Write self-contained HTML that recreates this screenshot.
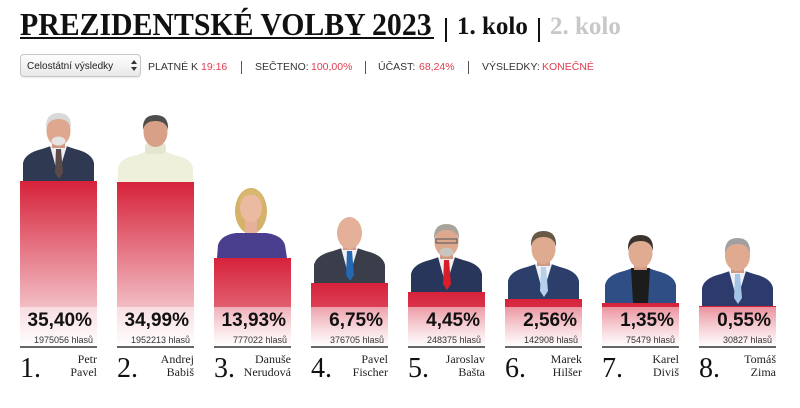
<!DOCTYPE html>
<html><head><meta charset="utf-8">
<style>
html,body{margin:0;padding:0;background:#fff;}
body{width:800px;height:408px;position:relative;overflow:hidden;font-family:"Liberation Sans",Arial,sans-serif;}
.abs{position:absolute;white-space:nowrap;}
.title{left:20px;top:8px;font-family:"Liberation Serif",serif;font-weight:bold;font-size:32px;line-height:32px;color:#111;transform:scaleX(0.931);transform-origin:0 0;}
.kolo{font-family:"Liberation Serif",serif;font-weight:bold;font-size:25px;line-height:25px;top:14px;}
.pipe{width:2px;height:24px;top:18px;background:#111;}
.row{font-size:10.5px;line-height:12px;top:61px;color:#333;}
.red{color:#e23b4e;}
.sep{width:1px;height:13px;top:61px;background:#555;}
.sel{left:20px;top:54px;width:119px;height:21px;border:1px solid #c6c6c6;border-radius:4px;background:linear-gradient(#fdfdfd,#e9e9e9);box-shadow:0 1px 1px rgba(0,0,0,.08);}
.sel span{position:absolute;left:6px;top:6px;font-size:10px;line-height:12px;color:#222;}
.bar{position:absolute;width:77px;background:linear-gradient(#d6223a 0px,#f2bcc3 125px);}
.box{position:absolute;width:77px;top:307px;height:40px;background:linear-gradient(rgba(255,255,255,.5),rgba(255,255,255,1));}
.pct{position:absolute;right:5px;top:3.5px;font-weight:bold;font-size:19px;line-height:19px;color:#111;}
.vot{position:absolute;right:4px;top:28.5px;font-size:9px;line-height:9px;color:#333;}
.ul{position:absolute;width:77px;top:346px;height:2px;background:#666;}
.rank{position:absolute;top:355px;font-family:"Liberation Serif",serif;font-size:28px;line-height:28px;color:#111;}
.name{position:absolute;top:353px;width:77px;text-align:right;font-family:"Liberation Serif",serif;font-size:12px;line-height:12.5px;color:#222;}
</style></head><body>

<div class="abs title">PREZIDENTSKÉ VOLBY 2023</div>
<div class="abs" style="left:20px;top:37px;width:414px;height:2px;background:#111;"></div>
<div class="abs pipe" style="left:445px;"></div>
<div class="abs kolo" style="left:457px;color:#111;">1. kolo</div>
<div class="abs pipe" style="left:538px;"></div>
<div class="abs kolo" style="left:550px;color:#c8c8c8;">2. kolo</div>

<div class="abs sel"><span>Celostátní výsledky</span>
<svg style="position:absolute;left:110px;top:5px" width="6" height="11" viewBox="0 0 6 11"><path d="M0,4 L3,0 L6,4 Z M0,7 L3,11 L6,7 Z" fill="#333"/></svg></div>

<div class="abs row" style="left:148px;">PLATNÉ K</div>
<div class="abs row red" style="left:201px;">19:16</div>
<div class="abs sep" style="left:241px;"></div>
<div class="abs row" style="left:255px;">SEČTENO:</div>
<div class="abs row red" style="left:311px;">100,00%</div>
<div class="abs sep" style="left:365px;"></div>
<div class="abs row" style="left:378px;">ÚČAST:</div>
<div class="abs row red" style="left:419px;">68,24%</div>
<div class="abs sep" style="left:468px;"></div>
<div class="abs row" style="left:482px;">VÝSLEDKY:</div>
<div class="abs row red" style="left:542px;">KONEČNÉ</div>

<!-- bars -->
<div class="bar" style="left:20px;top:181px;height:166px;"></div>
<div class="bar" style="left:117px;top:182px;height:165px;"></div>
<div class="bar" style="left:214px;top:258px;height:89px;"></div>
<div class="bar" style="left:311px;top:283px;height:64px;"></div>
<div class="bar" style="left:408px;top:292px;height:55px;"></div>
<div class="bar" style="left:505px;top:299px;height:48px;"></div>
<div class="bar" style="left:602px;top:303px;height:44px;"></div>
<div class="bar" style="left:699px;top:306px;height:41px;"></div>

<div class="box" style="left:20px;"><div class="pct">35,40%</div><div class="vot">1975056 hlasů</div></div>
<div class="box" style="left:117px;"><div class="pct">34,99%</div><div class="vot">1952213 hlasů</div></div>
<div class="box" style="left:214px;"><div class="pct">13,93%</div><div class="vot">777022 hlasů</div></div>
<div class="box" style="left:311px;"><div class="pct">6,75%</div><div class="vot">376705 hlasů</div></div>
<div class="box" style="left:408px;"><div class="pct">4,45%</div><div class="vot">248375 hlasů</div></div>
<div class="box" style="left:505px;"><div class="pct">2,56%</div><div class="vot">142908 hlasů</div></div>
<div class="box" style="left:602px;"><div class="pct">1,35%</div><div class="vot">75479 hlasů</div></div>
<div class="box" style="left:699px;"><div class="pct">0,55%</div><div class="vot">30827 hlasů</div></div>

<div class="ul" style="left:20px;"></div><div class="ul" style="left:117px;"></div><div class="ul" style="left:214px;"></div><div class="ul" style="left:311px;"></div>
<div class="ul" style="left:408px;"></div><div class="ul" style="left:505px;"></div><div class="ul" style="left:602px;"></div><div class="ul" style="left:699px;"></div>

<div class="rank" style="left:20px;">1.</div><div class="name" style="left:20px;">Petr<br>Pavel</div>
<div class="rank" style="left:117px;">2.</div><div class="name" style="left:117px;">Andrej<br>Babiš</div>
<div class="rank" style="left:214px;">3.</div><div class="name" style="left:214px;">Danuše<br>Nerudová</div>
<div class="rank" style="left:311px;">4.</div><div class="name" style="left:311px;">Pavel<br>Fischer</div>
<div class="rank" style="left:408px;">5.</div><div class="name" style="left:408px;">Jaroslav<br>Bašta</div>
<div class="rank" style="left:505px;">6.</div><div class="name" style="left:505px;">Marek<br>Hilšer</div>
<div class="rank" style="left:602px;">7.</div><div class="name" style="left:602px;">Karel<br>Diviš</div>
<div class="rank" style="left:699px;">8.</div><div class="name" style="left:699px;">Tomáš<br>Zima</div>

<!-- portraits -->
<svg class="abs" style="left:0;top:0" width="800" height="408" viewBox="0 0 800 408">
<!-- 1 Pavel -->
<g transform="translate(20,111)">
<path d="M3,70 L3,52 Q5,42 22,38 L31,35 L46,35 L55,38 Q72,42 74,52 L74,70 Z" fill="#2f3a52"/>
<path d="M30,35 L38,64 L47,35 Z" fill="#eeeef2"/>
<path d="M36,38 L41,38 L43,62 L39,68 L35,62 Z" fill="#5a4a48"/>
<rect x="32" y="27" width="13" height="10" fill="#cf9680"/>
<ellipse cx="38.5" cy="20" rx="12" ry="15" fill="#dfa88e"/>
<ellipse cx="38.5" cy="30" rx="7" ry="4.5" fill="#e6e4e2"/>
<path d="M26,18 Q25,2 38.5,2 Q52,2 51,18 Q49,8 38.5,8 Q28,8 26,18 Z" fill="#d9d9d9"/>
</g>
<!-- 2 Babiš -->
<g transform="translate(117,112)">
<path d="M1,70 L1,56 Q3,46 20,43 L30,39 L47,39 L57,43 Q74,46 76,56 L76,70 Z" fill="#eef0dc"/>
<rect x="28" y="31" width="21" height="11" rx="4" fill="#e4e6cf"/>
<ellipse cx="38.5" cy="20" rx="12" ry="15" fill="#d9a088"/>
<path d="M26,18 Q25,3 38.5,3 Q52,3 51,18 Q49,9 38.5,9 Q28,9 26,18 Z" fill="#4e4e4c"/>
</g>
<!-- 3 Nerudová -->
<g transform="translate(214,188)">
<ellipse cx="37" cy="23" rx="16" ry="23" fill="#d4b26a"/>
<path d="M3,70 L4,57 Q7,47 22,45 L52,45 Q68,47 71,57 L73,70 Z" fill="#4a3e8e"/>
<rect x="31" y="32" width="12" height="13" fill="#e6b09a"/>
<ellipse cx="37" cy="20" rx="11" ry="14" fill="#ecbaa0"/>
<path d="M25,18 Q24,2 37,2 Q50,2 49,18 Q46,7 37,7 Q28,7 25,18 Z" fill="#d8b870"/>
</g>
<!-- 4 Fischer -->
<g transform="translate(311,213)">
<path d="M3,70 L3,52 Q5,42 22,38 L31,35 L46,35 L55,38 Q72,42 74,52 L74,70 Z" fill="#3a3e4a"/>
<path d="M30,35 L38,64 L47,35 Z" fill="#eef0f4"/>
<path d="M36,38 L41,38 L43,62 L39,68 L35,62 Z" fill="#2368b0"/>
<rect x="32" y="27" width="13" height="10" fill="#d69c86"/>
<ellipse cx="38.5" cy="20" rx="12.5" ry="16" fill="#e5b09a"/>
</g>
<!-- 5 Bašta -->
<g transform="translate(408,222)">
<path d="M3,70 L3,52 Q5,42 22,38 L31,35 L46,35 L55,38 Q72,42 74,52 L74,70 Z" fill="#28365c"/>
<path d="M30,35 L38,64 L47,35 Z" fill="#f0f0f0"/>
<path d="M36,38 L41,38 L43,62 L39,68 L35,62 Z" fill="#d81e2a"/>
<rect x="32" y="27" width="13" height="10" fill="#d09a84"/>
<ellipse cx="38.5" cy="20" rx="12" ry="15" fill="#dca88e"/>
<ellipse cx="38.5" cy="30" rx="7" ry="4.5" fill="#c8c4c0"/>
<rect x="28" y="17" width="21" height="4" fill="none" stroke="#555" stroke-width="1"/>
<path d="M26,18 Q25,2 38.5,2 Q52,2 51,18 Q49,8 38.5,8 Q28,8 26,18 Z" fill="#a8a49c"/>
</g>
<!-- 6 Hilšer -->
<g transform="translate(505,229)">
<path d="M3,70 L3,52 Q5,42 22,38 L31,35 L46,35 L55,38 Q72,42 74,52 L74,70 Z" fill="#2b3f6a"/>
<path d="M30,35 L38,64 L47,35 Z" fill="#eef2f6"/>
<path d="M36,38 L41,38 L43,62 L39,68 L35,62 Z" fill="#b4d0ec"/>
<rect x="32" y="27" width="13" height="10" fill="#cf9a84"/>
<ellipse cx="38.5" cy="20" rx="12" ry="15" fill="#deaa90"/>
<path d="M26,18 Q25,2 38.5,2 Q52,2 51,18 Q49,8 38.5,8 Q28,8 26,18 Z" fill="#6a5846"/>
</g>
<!-- 7 Diviš -->
<g transform="translate(602,233)">
<path d="M3,70 L3,52 Q5,42 22,38 L31,35 L46,35 L55,38 Q72,42 74,52 L74,70 Z" fill="#2f4e85"/>
<path d="M29,35 L31,70 L46,70 L48,35 Z" fill="#1c1c1c"/>
<rect x="32" y="27" width="13" height="10" fill="#cf9a84"/>
<ellipse cx="38.5" cy="20" rx="12" ry="15" fill="#dfac92"/>
<path d="M26,18 Q25,2 38.5,2 Q52,2 51,18 Q49,8 38.5,8 Q28,8 26,18 Z" fill="#3a3430"/>
</g>
<!-- 8 Zima -->
<g transform="translate(699,236)">
<path d="M3,70 L3,52 Q5,42 22,38 L31,35 L46,35 L55,38 Q72,42 74,52 L74,70 Z" fill="#2c3b6c"/>
<path d="M30,35 L38,64 L47,35 Z" fill="#eef2f6"/>
<path d="M36,38 L41,38 L43,62 L39,68 L35,62 Z" fill="#a4c4e6"/>
<rect x="32" y="27" width="13" height="10" fill="#d09a84"/>
<ellipse cx="38.5" cy="20" rx="12.5" ry="15" fill="#e0aa90"/>
<path d="M26,18 Q25,2 38.5,2 Q52,2 51,18 Q49,8 38.5,8 Q28,8 26,18 Z" fill="#a0a0a0"/>
</g>
</svg>
</body></html>
